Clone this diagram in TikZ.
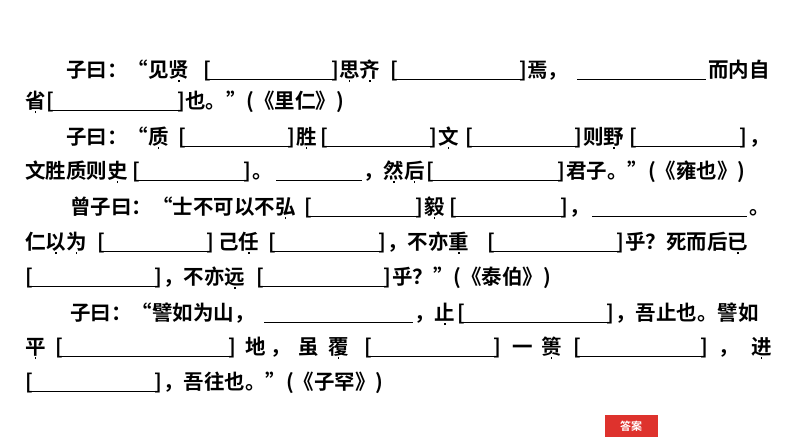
\documentclass[tikz,border=0pt]{standalone}
\usepackage{fontspec}
\setmainfont{Noto Sans CJK SC}[BoldFont=* Bold]
\newcommand\zd[1]{\ooalign{#1\cr\hidewidth\raisebox{-5pt}{\rule{1.8pt}{1.8pt}}\hidewidth\cr}}
\begin{document}
\begin{tikzpicture}[x=1pt,y=-1pt,
  tx/.style={anchor=base west,inner sep=0pt,font=\fontsize{20.5}{20.5}\selectfont\bfseries},
  te/.style={anchor=base east,inner sep=0pt,font=\fontsize{20.5}{20.5}\selectfont\bfseries},
  ul/.style={line width=1pt}]
\useasboundingbox (0,0) rectangle (794,447);
\fill[white] (0,0) rectangle (794,447);
\def\bl#1#2#3{\node[tx] at (#1,#3) {[}; \node[te] at (#2,#3) {]}; \draw[ul] (#1+5,#3+2) -- (#2-5,#3+2);}
\def\ln#1#2#3{\draw[ul] (#1,#3+2) -- (#2,#3+2);}
% line 1
\node[tx] (l1a) at (66,77) {子曰：“见\zd{贤}};
\bl{203}{339}{77}
\node[tx] (l1b) at (339,77) {\zd{思}\zd{齐}};
\bl{390}{527}{77}
\node[tx] (l1c) at (527,77) {焉，};
\ln{577}{706}{77}
\node[tx] (l1d) at (708,77) {而内自};
% line 2
\node[tx] (l2a) at (25,108) {\zd{省}};
\bl{46}{185}{108}
\node[tx] (l2b) at (185,108) {也。”(《里仁》)};
% line 3
\node[tx] (l3a) at (66,144) {子曰：“\zd{质}};
\bl{178}{295}{144}
\node[tx] (l3b) at (296,144) {\zd{胜}};
\bl{320}{437}{144}
\node[tx] (l3c) at (438,144) {\zd{文}};
\bl{465}{582}{144}
\node[tx] (l3d) at (583,144) {则\zd{野}};
\bl{629}{747}{144}
\node[tx] (l3e) at (749,144) {，};
% line 4
\node[tx] (l4a) at (25,178) {文胜质则\zd{史}};
\bl{132}{251}{178}
\node[tx] (l4b) at (252,178) {。};
\ln{276}{362}{178}
\node[tx] (l4c) at (363,178) {，\zd{然}\zd{后}};
\bl{426}{565}{178}
\node[tx] (l4d) at (566,178) {君子。”(《雍也》)};
% line 5
\node[tx] (l5a) at (70,214) {曾子曰：“士不可以不\zd{弘}};
\bl{304}{423}{214}
\node[tx] (l5b) at (424,214) {\zd{毅}};
\bl{449}{568}{214}
\node[tx] (l5c) at (569,214) {，};
\ln{592}{747}{214}
\node[tx] (l5d) at (749,214) {。};
% line 6
\node[tx] (l6a) at (25,249) {仁\zd{以}\zd{为}};
\bl{97}{214}{249}
\node[tx] (l6b) at (218,249) {己\zd{任}};
\bl{268}{386}{249}
\node[tx] (l6c) at (387,249) {，不亦\zd{重}};
\bl{487}{624}{249}
\node[tx] (l6d) at (625,249) {乎？死而后\zd{已}};
% line 7
\bl{25}{162}{284}
\node[tx] (l7a) at (163,284) {，不亦\zd{远}};
\bl{256}{391}{284}
\node[tx] (l7b) at (392,284) {乎？”(《泰伯》)};
% line 8
\node[tx] (l8a) at (70,320) {子曰：“譬如为山，};
\ln{264}{413}{320}
\node[tx] (l8b) at (414,320) {，\zd{止}};
\bl{457}{614}{320}
\node[tx] (l8c) at (615,320) {，吾止也。譬如};
% line 9
\node[tx] (l9a) at (25,354) {\zd{平}};
\bl{55}{236}{354}
\node[tx] (l9b) at (245,354) {地};
\node[tx] (l9b2) at (270,354) {，};
\node[tx] (l9b3) at (298,354) {虽};
\node[tx] (l9b4) at (328,354) {\zd{覆}};
\bl{364}{501}{354}
\node[tx] (l9c) at (512,354) {一};
\node[tx] (l9c2) at (541,354) {\zd{篑}};
\bl{573}{708}{354}
\node[tx] (l9d) at (718,354) {，};
\node[tx] (l9e) at (751,354) {\zd{进}};
% line 10
\bl{25}{162}{389}
\node[tx] (l10a) at (163,389) {，吾往也。”(《子罕》)};
% answer button
\node[fill={rgb,255:red,222;green,50;blue,45},text=white,minimum width=53pt,minimum height=22pt,inner sep=0pt,font=\fontsize{11}{11}\selectfont\bfseries] (ans) at (631,426) {答案};
\end{tikzpicture}
\end{document}
